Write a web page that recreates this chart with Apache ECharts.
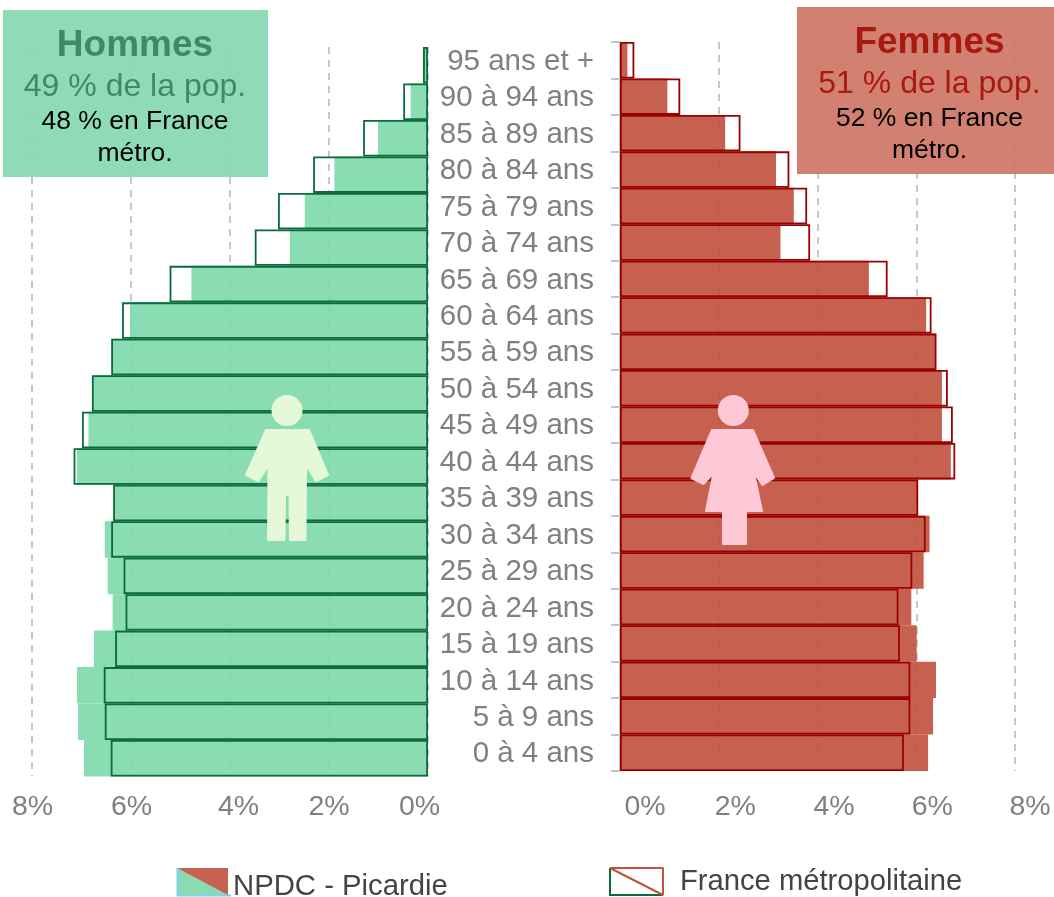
<!DOCTYPE html>
<html>
<head>
<meta charset="utf-8">
<style>html,body{margin:0;padding:0;background:#fff}#c{width:1054px;height:897px}</style>
<script src="https://cdn.jsdelivr.net/npm/echarts@6/dist/echarts.min.js"></script>
</head>
<body>
<div id="c"></div>
<script>
const ageGroups = ['95 ans et +','90 à 94 ans','85 à 89 ans','80 à 84 ans','75 à 79 ans','70 à 74 ans','65 à 69 ans','60 à 64 ans','55 à 59 ans','50 à 54 ans','45 à 49 ans','40 à 44 ans','35 à 39 ans','30 à 34 ans','25 à 29 ans','20 à 24 ans','15 à 19 ans','10 à 14 ans','5 à 9 ans','0 à 4 ans'];
const menRegion = [0.10,0.35,1.01,1.89,2.49,2.79,4.78,6.02,6.37,6.77,6.86,7.09,6.34,6.53,6.47,6.37,6.75,7.09,7.07,6.95];
const menFrance = [0.10,0.50,1.31,2.32,3.03,3.50,5.22,6.18,6.40,6.79,6.99,7.16,6.36,6.40,6.15,6.11,6.32,6.55,6.53,6.41];
const womenRegion = [0.15,0.96,2.13,3.16,3.52,3.25,5.04,6.20,6.39,6.52,6.52,6.70,6.02,6.27,6.15,5.90,6.01,6.40,6.34,6.24];
const womenFrance = [0.29,1.22,2.44,3.43,3.79,3.85,5.42,6.31,6.41,6.64,6.74,6.79,6.04,6.19,5.92,5.64,5.67,5.88,5.88,5.75];

const FONT = '"Liberation Sans", Arial, sans-serif';
const GREY = '#808080';

// Tick labels sit off their gridlines in the original: nudges in px per tick value.
function pctLabel(nudges, margin) {
  const rich = {};
  Object.keys(nudges).forEach(function (v) {
    const d = nudges[v];
    rich['t' + v] = {
      color: GREY, fontSize: 28.5, fontFamily: FONT,
      padding: [0, d < 0 ? -2 * d : 0, 0, d > 0 ? 2 * d : 0]
    };
  });
  return {
    margin: margin, color: GREY, fontSize: 28.5, fontFamily: FONT, rich: rich,
    formatter: function (v) { return '{t' + v + '|' + v + '%}'; }
  };
}
function xAxisOf(idx, inverse, nudges, margin) {
  return {
    type: 'value', gridIndex: idx, min: 0, max: 8, interval: 2, inverse: inverse,
    axisLine: {show: false}, axisTick: {show: false},
    axisLabel: pctLabel(nudges, margin),
    splitLine: {show: true, lineStyle: {color: '#c8c8c8', width: 2, type: [7, 6]}}
  };
}
function barPair(idx, regionVals, franceVals, fill, line, nameA, nameB) {
  return [
    {name: nameA, type: 'bar', xAxisIndex: idx, yAxisIndex: idx, data: regionVals,
     barGap: '-100%', barCategoryGap: 0, z: 3, silent: true,
     itemStyle: {color: fill, borderWidth: 0}},
    {name: nameB, type: 'bar', xAxisIndex: idx, yAxisIndex: idx, data: franceVals,
     barGap: '-100%', barCategoryGap: 0, z: 4, silent: true,
     itemStyle: {color: 'rgba(0,0,0,0)', borderColor: line, borderWidth: 1.8}}
  ];
}
function txt(x, y, s, size, color, weight, align) {
  return {type: 'text', x: x, y: y, z: 100, silent: true, style: {
    text: s, fill: color, fontSize: size, fontFamily: FONT, fontWeight: weight || 'normal',
    textAlign: align || 'center', textVerticalAlign: 'middle'}};
}
function poly(points, fill, stroke, w) {
  return {type: 'polygon', z: 90, silent: true, shape: {points: points},
    style: {fill: fill, stroke: stroke || fill, lineWidth: w === undefined ? 2 : w, lineJoin: 'round'}};
}
const manColor = '#e5f8d8', womanColor = '#ffc8d6';

const option = {
  animation: false,
  backgroundColor: '#fff',
  grid: [
    {left: 32, top: 47, width: 396, height: 729.5},
    {left: 620, top: 42, width: 395, height: 729}
  ],
  xAxis: [
    xAxisOf(0, true, {0: -8.5, 2: 0, 4: 8.5, 6: 0.5, 8: 0.5}, 16),
    xAxisOf(1, false, {0: 25, 2: 16.5, 4: 16.5, 6: 16, 8: 15}, 22)
  ],
  yAxis: [
    {type: 'category', gridIndex: 0, inverse: true, data: ageGroups, show: false},
    {type: 'category', gridIndex: 1, inverse: true, data: ageGroups, position: 'left',
     axisLine: {show: true, onZero: false, lineStyle: {color: '#c4c4c4', width: 2}},
     axisTick: {show: true, length: 9, lineStyle: {color: '#c4c4c4', width: 2}},
     axisLabel: {interval: 0, margin: 26, align: 'right',
       formatter: function (v) { return '{a|' + v + '}'; },
       rich: {a: {color: GREY, fontSize: 29.5, fontFamily: FONT, padding: [3, 0, 0, 0]}}}}
  ],
  series: [].concat(
    barPair(0, menRegion, menFrance, 'rgba(125,216,170,0.9)', '#0b6b3a', 'Hommes NPDC - Picardie', 'Hommes France métropolitaine'),
    barPair(1, womenRegion, womenFrance, 'rgba(192,80,60,0.9)', '#9b0000', 'Femmes NPDC - Picardie', 'Femmes France métropolitaine')
  ),
  graphic: [
    // title boxes
    {type: 'rect', z: 80, silent: true, shape: {x: 3, y: 10, width: 265, height: 167}, style: {fill: 'rgba(134,216,177,0.93)'}},
    {type: 'rect', z: 80, silent: true, shape: {x: 797, y: 7, width: 257, height: 167}, style: {fill: 'rgba(207,118,102,0.93)'}},
    txt(135, 46, 'Hommes', 37, '#3e8a68', 'bold'),
    txt(135, 87, '49 % de la pop.', 32, '#3e8a68'),
    txt(135, 122, '48 % en France', 26.5, '#000'),
    txt(135, 154, 'métro.', 26.5, '#000'),
    txt(929.5, 43, 'Femmes', 37, '#a8190f', 'bold'),
    txt(929.5, 84, '51 % de la pop.', 32, '#a8190f'),
    txt(929.5, 119, '52 % en France', 26.5, '#000'),
    txt(929.5, 151, 'métro.', 26.5, '#000'),
    // man pictogram
    {type: 'circle', z: 90, silent: true, shape: {cx: 287, cy: 410.5, r: 15.5}, style: {fill: manColor}},
    poly([[266,430],[309,430],[328,475],[316,481],[306,465],[305.5,540],[290,540],[289.5,495],[285,495],[284.5,540],[268,540],[268.5,465],[258.5,481],[246,475]], manColor),
    // woman pictogram
    {type: 'circle', z: 90, silent: true, shape: {cx: 733.3, cy: 410.5, r: 15.5}, style: {fill: womanColor}},
    poly([[712,430],[753,430],[774,478],[762.5,485],[754,473],[762,511],[746,511],[746,544],[723,544],[723,511],[706,511],[713.5,473],[703.5,484],[691.5,478]], womanColor),
    // legend swatches
    poly([[177,868],[229,895],[177,895]], '#8adcb0', 'rgba(0,0,0,0)', 0),
    poly([[177,868],[228,868],[228,895]], '#c66250', 'rgba(0,0,0,0)', 0),
    {type: 'polyline', z: 91, silent: true, shape: {points: [[177.5,868],[177.5,895.5],[231,895.5]]}, style: {fill: 'none', stroke: '#7fd0f0', lineWidth: 2}},
    {type: 'polyline', z: 91, silent: true, shape: {points: [[610,868],[610,895],[663,895]]}, style: {fill: 'none', stroke: '#0b6b3a', lineWidth: 2}},
    {type: 'polyline', z: 92, silent: true, shape: {points: [[610,868],[663,868],[663,895],[610,868]]}, style: {fill: 'none', stroke: '#c0533a', lineWidth: 2, lineJoin: 'bevel'}},
    txt(233, 887, 'NPDC - Picardie', 29.3, '#444', 'normal', 'left'),
    txt(680, 882, 'France métropolitaine', 29.2, '#444', 'normal', 'left')
  ]
};
const chart = echarts.init(document.getElementById('c'), null, {renderer: 'canvas', width: 1054, height: 897});
chart.setOption(option);
</script>
</body>
</html>
